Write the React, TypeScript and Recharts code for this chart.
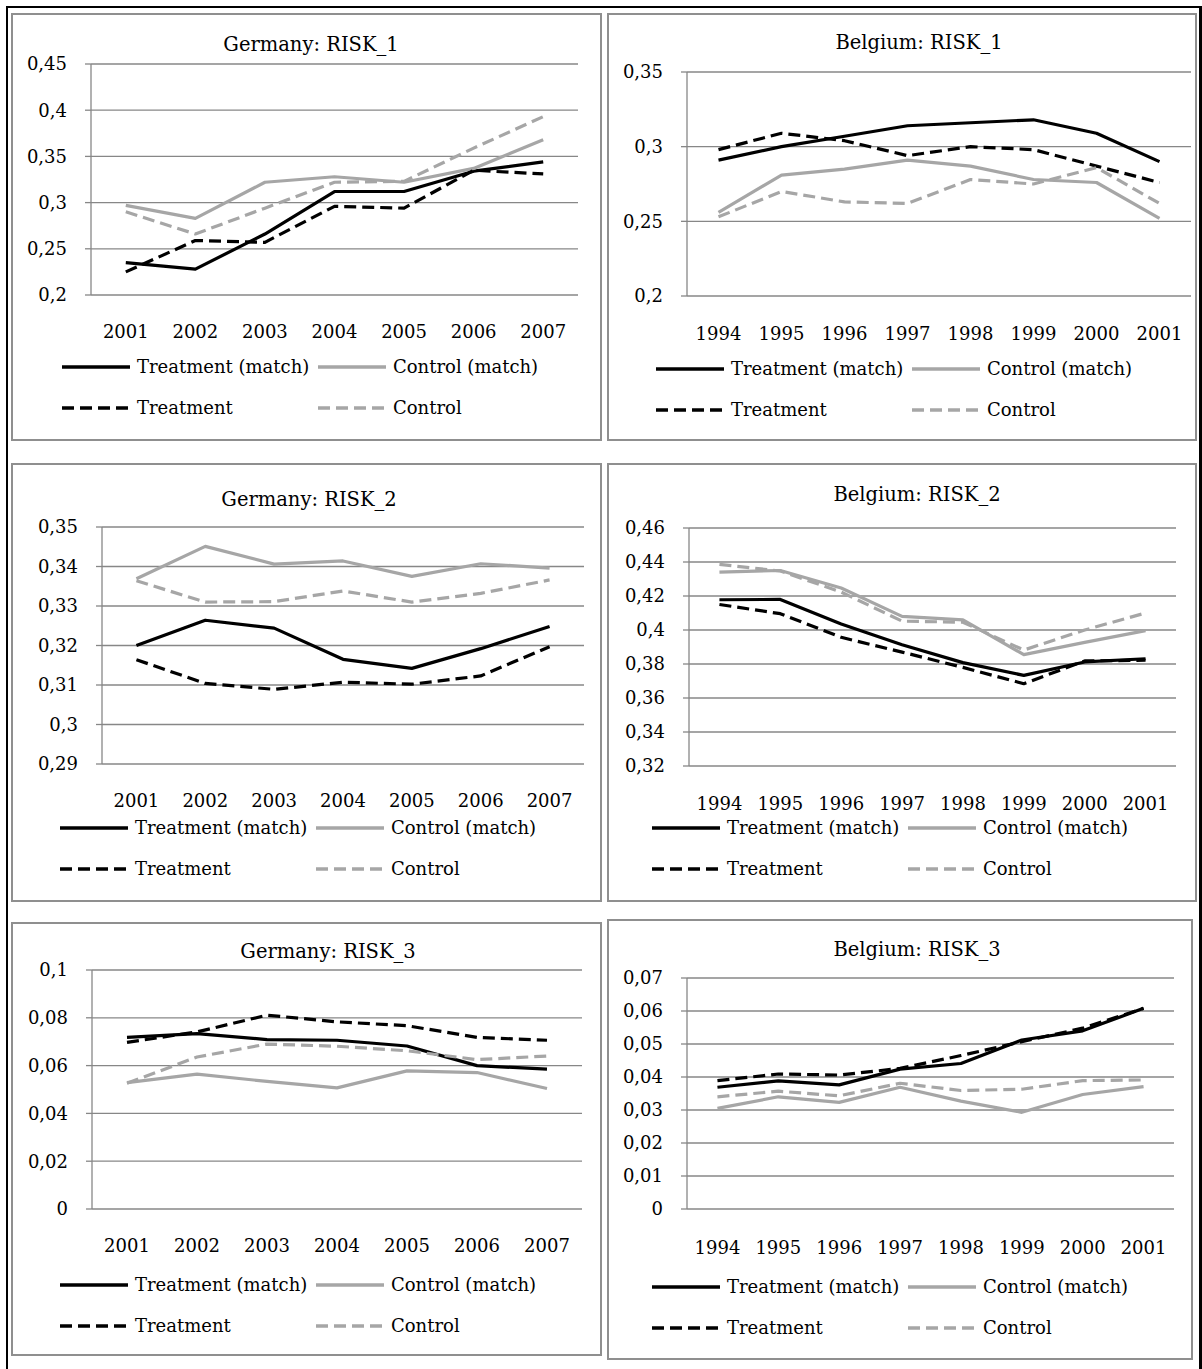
import { LineChart, Line, XAxis, YAxis, CartesianGrid, Legend } from 'recharts'

// categories
const germanyYears = ['2001', '2002', '2003', '2004', '2005', '2006', '2007']
const belgiumYears = ['1994', '1995', '1996', '1997', '1998', '1999', '2000', '2001']

const seriesNames = ['Treatment (match)', 'Control (match)', 'Treatment', 'Control']

// Germany: RISK_1
const deRisk1TreatMatch = [0.235, 0.228, 0.266, 0.312, 0.312, 0.334, 0.344]
const deRisk1CtrlMatch = [0.297, 0.283, 0.322, 0.328, 0.322, 0.337, 0.368]
const deRisk1Treat = [0.225, 0.259, 0.257, 0.296, 0.294, 0.335, 0.331]
const deRisk1Ctrl = [0.29, 0.266, 0.294, 0.322, 0.323, 0.359, 0.393]
const deRisk1Ticks = [0.2, 0.25, 0.3, 0.35, 0.4, 0.45]

// Belgium: RISK_1
const beRisk1TreatMatch = [0.291, 0.3, 0.307, 0.314, 0.316, 0.318, 0.309, 0.29]
const beRisk1CtrlMatch = [0.256, 0.281, 0.285, 0.291, 0.287, 0.278, 0.276, 0.252]
const beRisk1Treat = [0.298, 0.309, 0.304, 0.294, 0.3, 0.298, 0.287, 0.276]
const beRisk1Ctrl = [0.253, 0.27, 0.263, 0.262, 0.278, 0.275, 0.286, 0.262]
const beRisk1Ticks = [0.2, 0.25, 0.3, 0.35]

// Germany: RISK_2
const deRisk2TreatMatch = [0.32, 0.3264, 0.3244, 0.3165, 0.3142, 0.3192, 0.3248]
const deRisk2CtrlMatch = [0.3369, 0.3451, 0.3406, 0.3414, 0.3375, 0.3407, 0.3396]
const deRisk2Treat = [0.3164, 0.3104, 0.3089, 0.3107, 0.3102, 0.3123, 0.3197]
const deRisk2Ctrl = [0.3364, 0.331, 0.3311, 0.3338, 0.331, 0.3332, 0.3366]
const deRisk2Ticks = [0.29, 0.3, 0.31, 0.32, 0.33, 0.34, 0.35]

// Belgium: RISK_2
const beRisk2TreatMatch = [0.4178, 0.418, 0.4035, 0.3913, 0.3808, 0.3733, 0.3812, 0.3831]
const beRisk2CtrlMatch = [0.4341, 0.435, 0.4247, 0.408, 0.406, 0.3855, 0.3927, 0.3996]
const beRisk2Treat = [0.415, 0.4096, 0.3957, 0.387, 0.378, 0.3684, 0.3818, 0.3822]
const beRisk2Ctrl = [0.4386, 0.4347, 0.4223, 0.4052, 0.4046, 0.3882, 0.4, 0.41]
const beRisk2Ticks = [0.32, 0.34, 0.36, 0.38, 0.4, 0.42, 0.44, 0.46]

// Germany: RISK_3
const deRisk3TreatMatch = [0.0718, 0.0734, 0.0709, 0.0706, 0.0682, 0.06, 0.0585]
const deRisk3CtrlMatch = [0.0529, 0.0564, 0.0534, 0.0507, 0.0578, 0.0571, 0.0504]
const deRisk3Treat = [0.0697, 0.0741, 0.0811, 0.0783, 0.0767, 0.0718, 0.0706]
const deRisk3Ctrl = [0.0526, 0.0636, 0.069, 0.0681, 0.0662, 0.0625, 0.064]
const deRisk3Ticks = [0, 0.02, 0.04, 0.06, 0.08, 0.1]

// Belgium: RISK_3
const beRisk3TreatMatch = [0.0369, 0.0388, 0.0376, 0.0424, 0.0441, 0.0512, 0.054, 0.0608]
const beRisk3CtrlMatch = [0.0305, 0.034, 0.0323, 0.0369, 0.0327, 0.0293, 0.0347, 0.0371]
const beRisk3Treat = [0.0389, 0.0409, 0.0406, 0.0426, 0.0465, 0.0507, 0.0548, 0.0608]
const beRisk3Ctrl = [0.034, 0.0357, 0.0343, 0.0381, 0.0359, 0.0363, 0.0389, 0.0391]
const beRisk3Ticks = [0, 0.01, 0.02, 0.03, 0.04, 0.05, 0.06, 0.07]

const FONT = "'DejaVu Serif', serif"
const GRID = '#878787'
const BLACK = '#000000'
const GREY = '#a6a6a6'
const DASH = '12 6'

const Y_W = 70
const LAB_H = 40
const LEG_H = 80

const seriesStyles = [
  { key: 'tm', color: BLACK, dash: undefined },
  { key: 'cm', color: GREY, dash: undefined },
  { key: 't', color: BLACK, dash: DASH },
  { key: 'c', color: GREY, dash: DASH },
]

interface Panel {
  title: string
  years: string[]
  values: number[][]
  ticks: number[]
  box: [number, number, number, number] // left, top, width, height
  plot: [number, number, number, number] // x0, y0, x1, y1
  titleX: number
  titleBase: number
  labelGap: number
  legendX: number
  legendY: number
}

const panels: Panel[] = [
  {
    title: 'Germany: RISK_1',
    years: germanyYears,
    values: [deRisk1TreatMatch, deRisk1CtrlMatch, deRisk1Treat, deRisk1Ctrl],
    ticks: deRisk1Ticks,
    box: [11, 13, 591, 428],
    plot: [91, 64, 578, 295],
    titleX: 311, titleBase: 51.5, labelGap: 30, legendX: 62, legendY: 367,
  },
  {
    title: 'Belgium: RISK_1',
    years: belgiumYears,
    values: [beRisk1TreatMatch, beRisk1CtrlMatch, beRisk1Treat, beRisk1Ctrl],
    ticks: beRisk1Ticks,
    box: [607, 13, 590, 428],
    plot: [687, 72, 1191, 296],
    titleX: 919, titleBase: 49.5, labelGap: 31, legendX: 656, legendY: 369,
  },
  {
    title: 'Germany: RISK_2',
    years: germanyYears,
    values: [deRisk2TreatMatch, deRisk2CtrlMatch, deRisk2Treat, deRisk2Ctrl],
    ticks: deRisk2Ticks,
    box: [11, 463, 591, 439],
    plot: [102, 527, 584, 764],
    titleX: 309, titleBase: 506.5, labelGap: 30, legendX: 60, legendY: 828,
  },
  {
    title: 'Belgium: RISK_2',
    years: belgiumYears,
    values: [beRisk2TreatMatch, beRisk2CtrlMatch, beRisk2Treat, beRisk2Ctrl],
    ticks: beRisk2Ticks,
    box: [607, 463, 590, 439],
    plot: [689, 528, 1176, 766],
    titleX: 917, titleBase: 501.5, labelGap: 31, legendX: 652, legendY: 828,
  },
  {
    title: 'Germany: RISK_3',
    years: germanyYears,
    values: [deRisk3TreatMatch, deRisk3CtrlMatch, deRisk3Treat, deRisk3Ctrl],
    ticks: deRisk3Ticks,
    box: [11, 922, 591, 434],
    plot: [92, 970, 582, 1209],
    titleX: 328, titleBase: 959, labelGap: 30, legendX: 60, legendY: 1285,
  },
  {
    title: 'Belgium: RISK_3',
    years: belgiumYears,
    values: [beRisk3TreatMatch, beRisk3CtrlMatch, beRisk3Treat, beRisk3Ctrl],
    ticks: beRisk3Ticks,
    box: [607, 919, 586, 441],
    plot: [687, 978, 1174, 1209],
    titleX: 917, titleBase: 956.5, labelGap: 32, legendX: 652, legendY: 1287,
  },
]

const commaFormat = (v: number) => String(v).replace('.', ',')

function RiskLegend() {
  return (
    <div style={{ position: 'relative', width: 540, height: LEG_H, fontFamily: FONT }}>
      {seriesStyles.map((s, k) => (
        <div
          key={s.key}
          style={{
            position: 'absolute',
            left: (k % 2) * 256,
            top: Math.floor(k / 2) * 41,
            height: 40,
            display: 'flex',
            alignItems: 'center',
            whiteSpace: 'nowrap',
          }}
        >
          <svg width={68} height={10}>
            <line x1={0} y1={5} x2={68} y2={5} stroke={s.color} strokeWidth={3.5} strokeDasharray={s.dash} />
          </svg>
          <span style={{ marginLeft: 7, fontSize: 18, lineHeight: '20px', color: '#000' }}>{seriesNames[k]}</span>
        </div>
      ))}
    </div>
  )
}

function RiskPanel({ panel }: { panel: Panel }) {
  const [L, T, W, H] = panel.box
  const [px0, py0, px1, py1] = panel.plot
  const cl = L + 2
  const ct = T + 2
  const cw = W - 4
  const ch = H - 4
  const margin = {
    left: px0 - cl - Y_W,
    right: cl + cw - px1,
    top: py0 - ct,
    bottom: ch - (py1 - ct) - LAB_H - LEG_H,
  }
  const n = panel.years.length
  const rows = panel.years.map((year, i) => ({
    i,
    year,
    tm: panel.values[0][i],
    cm: panel.values[1][i],
    t: panel.values[2][i],
    c: panel.values[3][i],
  }))
  const bounds = Array.from({ length: n + 1 }, (_, k) => k - 0.5)
  const centers = panel.years.map((_, i) => i)
  const tickStyle = { fill: '#000', fontSize: 18, fontFamily: FONT }

  return (
    <>
      <div
        style={{
          position: 'absolute',
          left: L,
          top: T,
          width: W,
          height: H,
          border: '2px solid #8f8f8f',
          boxSizing: 'border-box',
        }}
      >
        <LineChart width={cw} height={ch} margin={margin} data={rows}>
          <CartesianGrid xAxisId="lab" vertical={false} stroke={GRID} strokeWidth={1.3} />
          <XAxis
            xAxisId="frame"
            type="number"
            dataKey="i"
            domain={[-0.5, n - 0.5]}
            ticks={bounds}
            interval={0}
            tick={false}
            tickSize={6}
            tickLine={{ stroke: GRID, strokeWidth: 1.3 }}
            axisLine={{ stroke: GRID, strokeWidth: 1.3 }}
            height={0}
          />
          <XAxis
            xAxisId="lab"
            type="number"
            dataKey="i"
            domain={[-0.5, n - 0.5]}
            ticks={centers}
            interval={0}
            tickFormatter={(v: number) => panel.years[v]}
            tick={tickStyle}
            tickLine={false}
            axisLine={false}
            tickSize={0}
            tickMargin={panel.labelGap}
            height={LAB_H}
          />
          <YAxis
            type="number"
            domain={[panel.ticks[0], panel.ticks[panel.ticks.length - 1]]}
            ticks={panel.ticks}
            interval={0}
            tickFormatter={commaFormat}
            tick={tickStyle}
            tickSize={6}
            tickMargin={18}
            tickLine={{ stroke: GRID, strokeWidth: 1.3 }}
            axisLine={{ stroke: GRID, strokeWidth: 1.3 }}
            width={Y_W}
          />
          <Legend
            content={() => <RiskLegend />}
            wrapperStyle={{
              left: panel.legendX - cl,
              top: panel.legendY - 20 - ct,
              bottom: 'auto',
              width: 540,
              height: LEG_H,
            }}
          />
          {seriesStyles.map((s, k) => (
            <Line
              key={s.key}
              xAxisId="lab"
              type="linear"
              dataKey={s.key}
              name={seriesNames[k]}
              stroke={s.color}
              strokeWidth={3.2}
              strokeDasharray={s.dash}
              strokeLinejoin="round"
              dot={false}
              activeDot={false}
              isAnimationActive={false}
            />
          ))}
        </LineChart>
      </div>
      <div
        style={{
          position: 'absolute',
          left: panel.titleX - 200,
          top: panel.titleBase - 16.75,
          width: 400,
          textAlign: 'center',
          fontSize: 19.5,
          lineHeight: '20px',
          fontFamily: FONT,
          color: '#000',
        }}
      >
        {panel.title}
      </div>
    </>
  )
}

export default function App() {
  return (
    <div
      style={{
        position: 'absolute',
        left: 0,
        top: 0,
        width: 1202,
        height: 1369,
        background: '#fff',
        fontFamily: FONT,
        overflow: 'hidden',
      }}
    >
      <div
        style={{
          position: 'absolute',
          left: 6,
          top: 6,
          width: 1196,
          height: 1380,
          borderLeft: '2px solid #000',
          borderTop: '2px solid #000',
          borderRight: '3px solid #000',
          boxSizing: 'border-box',
        }}
      />
      {panels.map((p) => (
        <RiskPanel key={p.title} panel={p} />
      ))}
    </div>
  )
}
